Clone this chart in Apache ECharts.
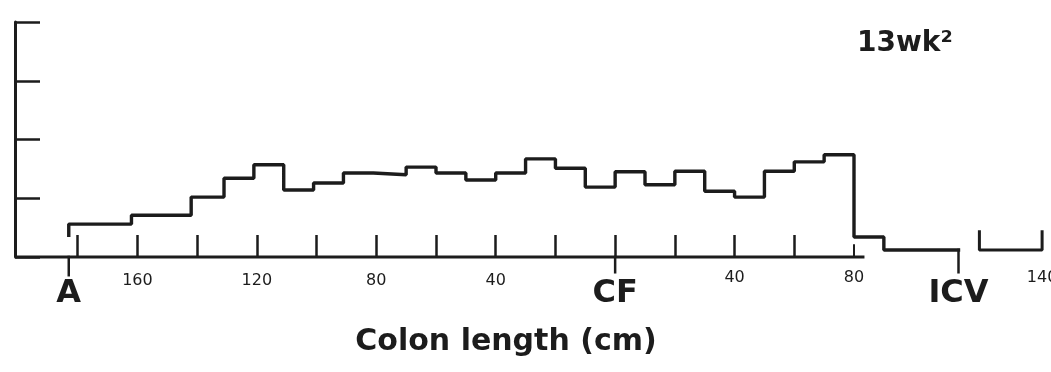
<!DOCTYPE html>
<html>
<head>
<meta charset="utf-8">
<title>Colon length</title>
<script src="https://cdn.jsdelivr.net/npm/echarts@6/dist/echarts.min.js"></script>
<style>
  html, body { margin: 0; padding: 0; background: #ffffff; }
  #chart { width: 1051px; height: 372px; }
</style>
</head>
<body>
<div id="chart"></div>
<script>
// positions along the colon in cm, CF = 0, anal side negative
const binEdges = [-183, -162, -142, -131, -121, -111, -101, -91, -81, -70, -60, -50, -40, -30,
  -20, -10, 0, 10, 20, 30, 40, 50, 60, 70, 80, 90, 115]
const binValues = [0.56, 0.71, 1.02, 1.34, 1.57, 1.14, 1.26, 1.43, 1.40, 1.53, 1.43, 1.31, 1.43,
  1.67, 1.51, 1.19, 1.45, 1.23, 1.46, 1.12, 1.02, 1.46, 1.62, 1.74, 0.34, 0.12]
const startValue = 0.37

// ileum bracket past the axis break
const ileum = [[122, 0.43], [122, 0.12], [143, 0.12], [143, 0.43]]

const tickValues = [-180, -160, -140, -120, -100, -80, -60, -40, -20, 0, 20, 40, 60]
const labelValues = [-183, -160, -120, -80, -40, 0, 40, 80, 115, 143]
const labelTexts = ['A', '160', '120', '80', '40', 'CF', '40', '80', 'ICV', '140']

const baseline = [[-201, 0], [83, 0]]
const tickA = [[-183, 0], [-183, -0.31]]
const tickCF = [[0, 0], [0, -0.26]]
const tick80 = [[80, 0], [80, 0.2]]
const tickICV = [[115, 0.12], [115, -0.26]]

const ink = '#1c1c1c'
const font = 'DejaVu Sans'

const histo = [[binEdges[0], startValue]]
binValues.forEach((v, i) => {
  histo.push([binEdges[i], v], [binEdges[i + 1], v])
})

const seg = (data, w) => ({
  type: 'line',
  data: data,
  symbol: 'none',
  clip: false,
  silent: true,
  lineStyle: { color: ink, width: w, cap: 'square' },
})

const chart = echarts.init(document.getElementById('chart'))
chart.setOption({
  animation: false,
  backgroundColor: '#ffffff',
  grid: {
    left: 18,
    top: 22,
    width: 1045,
    bottom: 115,
    containLabel: false,
    outerBoundsMode: 'none',
  },
  xAxis: {
    type: 'value',
    min: -200,
    max: 150,
    axisLine: { show: false },
    splitLine: { show: false },
    axisTick: {
      show: true,
      inside: true,
      length: 22,
      customValues: tickValues,
      lineStyle: { color: ink, width: 2.5 },
    },
    axisLabel: {
      show: true,
      margin: 8,
      customValues: labelValues,
      formatter: function (v) {
        const i = labelValues.indexOf(v)
        if (i < 0) return ''
        const t = labelTexts[i]
        if (/[A-Z]/.test(t)) return '{b|' + t + '}'
        return v > 0 ? '{r|' + t + '}' : '{s|' + t + '}'
      },
      rich: {
        b: { fontFamily: font, fontWeight: 'bold', fontSize: 32, lineHeight: 58, color: ink },
        s: { fontFamily: font, fontSize: 16, lineHeight: 32, color: ink },
        r: { fontFamily: font, fontSize: 16, lineHeight: 26, color: ink },
      },
    },
  },
  yAxis: {
    type: 'value',
    min: 0,
    max: 4,
    interval: 1,
    offset: 3,
    axisLine: { show: true, onZero: false, lineStyle: { color: ink, width: 3 } },
    axisTick: { show: true, inside: true, length: 25, lineStyle: { color: ink, width: 2.5 } },
    axisLabel: { show: false },
    splitLine: { show: false },
  },
  graphic: [
    {
      type: 'text',
      x: 506,
      y: 342,
      style: {
        text: 'Colon length (cm)',
        font: 'bold 30px "DejaVu Sans"',
        fill: ink,
        textAlign: 'center',
        textVerticalAlign: 'middle',
      },
    },
    {
      type: 'text',
      x: 857,
      y: 44,
      style: {
        text: '13wk²',
        font: 'bold 28px "DejaVu Sans"',
        fill: ink,
        textAlign: 'left',
        textVerticalAlign: 'middle',
      },
    },
  ],
  series: [
    seg(baseline, 3),
    seg(histo, 3.4),
    seg(ileum, 3),
    seg(tickA, 2.5),
    seg(tickCF, 2.5),
    seg(tick80, 2),
    seg(tickICV, 2.5),
  ],
})
</script>
</body>
</html>
